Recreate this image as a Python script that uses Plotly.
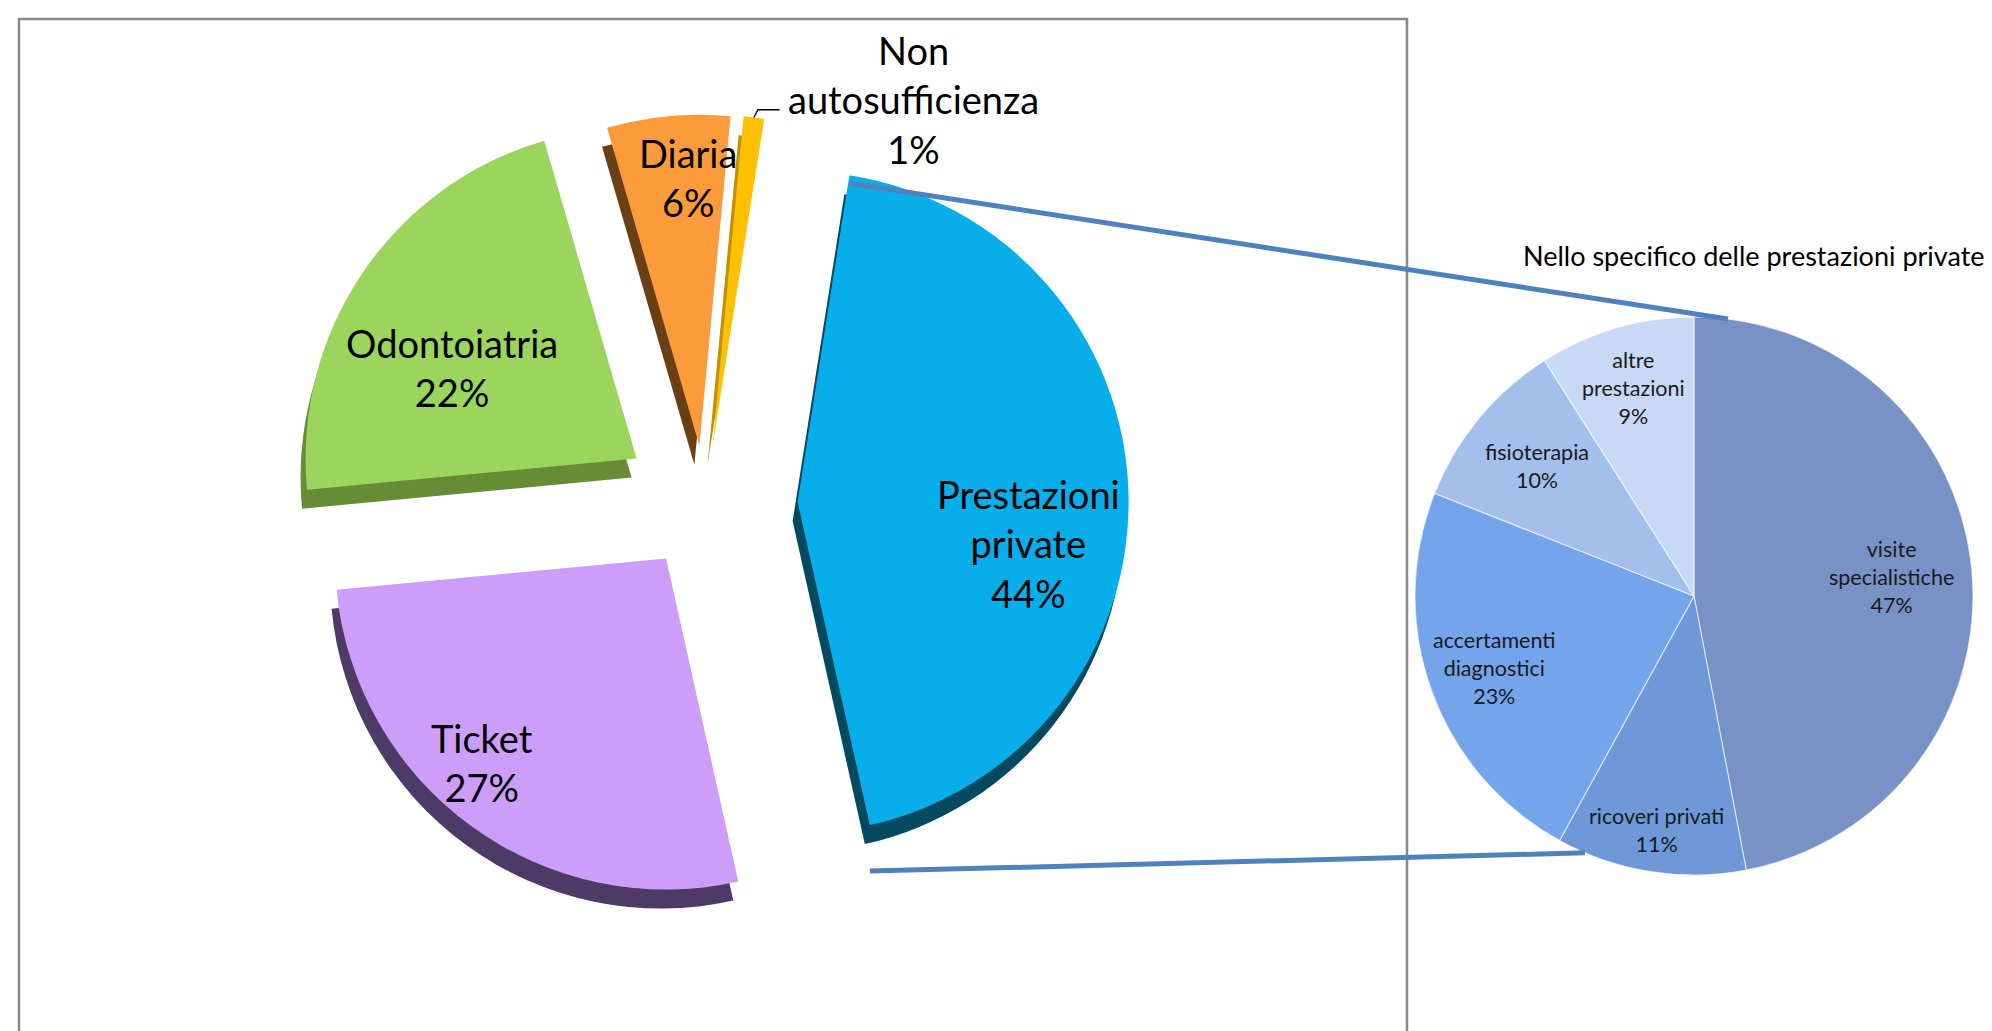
import math
import plotly.graph_objects as go

# ---------------- data ----------------
main_labels = ["Prestazioni<br>private", "Ticket", "Odontoiatria", "Diaria", "Non<br>autosufficienza"]
main_values = [44, 27, 22, 6, 1]

sub_labels = ["visite<br>specialistiche", "ricoveri privati", "accertamenti<br>diagnostici",
              "fisioterapia", "altre<br>prestazioni"]
sub_values = [47, 11, 23, 10, 9]

sub_title = "Nello specifico delle prestazioni private"

# ---------------- style ----------------
W, H = 1992, 1031
FONT = "Lato, Carlito, Calibri, 'Open Sans', sans-serif"

main_colors = ["#08AEEA", "#CC9EFA", "#9BD55E", "#FB9B3B", "#FFC000"]
main_side_colors = ["#03495F", "#4E3A66", "#678C36", "#6B3F14", "#C29100"]
main_pull = [0.28, 0.20, 0.25, 0.18, 0.18]
main_rotation = 9
main_cx, main_cy, main_r = 697, 497, 331
depth_dx, depth_dy = -5, 19
main_lab_r = [0.71, 0.83, 0.62, 0.81, 1.21]
main_lab_dang = [12, 6, -8, 3, 23]
main_font_size = 38

sub_colors = ["#7892C6", "#6F98D8", "#74A5EB", "#A3BFEC", "#C8D9F5"]
sub_rotation = 0
sub_cx, sub_cy, sub_r = 1686, 588, 279
sub_lab_r = [0.71, 0.85, 0.76, 0.73, 0.775]
sub_font_size = 21.5
title_font_size = 27

connector_color = "#4F81BD"


def unit(deg):
    a = math.radians(deg)
    return math.sin(a), -math.cos(a)


def slice_angles(values, rotation):
    tot = float(sum(values))
    cur = rotation
    out = []
    for v in values:
        span = 360.0 * v / tot
        out.append((cur, cur + span, cur + span / 2.0))
        cur += span
    return out


def pie_domain(cx, cy, r, maxpull):
    half = r * (1 + maxpull)
    return dict(x=[(cx - half) / W, (cx + half) / W],
                y=[1 - (cy + half) / H, 1 - (cy - half) / H])


def px(x, y):
    return x / W, 1 - y / H


fig = go.Figure()

plain_main = [l.replace("<br>", " ") for l in main_labels]
plain_sub = [l.replace("<br>", " ") for l in sub_labels]

# 3D side of the exploded pie (darker copy, shifted)
fig.add_trace(go.Pie(
    labels=plain_main, values=main_values, sort=False, direction="clockwise",
    rotation=main_rotation, pull=main_pull,
    marker=dict(colors=main_side_colors, line=dict(width=0)),
    textinfo="none", hoverinfo="skip", showlegend=False,
    domain=pie_domain(main_cx + depth_dx, main_cy + depth_dy, main_r, max(main_pull)),
))

# main exploded pie
fig.add_trace(go.Pie(
    labels=plain_main, values=main_values, sort=False, direction="clockwise",
    rotation=main_rotation, pull=main_pull,
    marker=dict(colors=main_colors, line=dict(width=0)),
    textinfo="none", showlegend=False,
    domain=pie_domain(main_cx, main_cy, main_r, max(main_pull)),
))

# secondary pie
fig.add_trace(go.Pie(
    labels=plain_sub, values=sub_values, sort=False, direction="clockwise",
    rotation=sub_rotation,
    marker=dict(colors=sub_colors, line=dict(color="rgba(255,255,255,0.6)", width=1.2)),
    textinfo="none", showlegend=False,
    domain=pie_domain(sub_cx, sub_cy, sub_r, 0),
))

annotations = []
shapes = []

# main labels
m_ang = slice_angles(main_values, main_rotation)
apexes = []
for i, (lab, v) in enumerate(zip(main_labels, main_values)):
    a0, a1, mid = m_ang[i]
    ux, uy = unit(mid)
    ax = main_cx + main_pull[i] * main_r * ux
    ay = main_cy + main_pull[i] * main_r * uy
    apexes.append((ax, ay))
    lx, ly = unit(mid + main_lab_dang[i])
    tx = ax + main_lab_r[i] * main_r * lx
    ty = ay + main_lab_r[i] * main_r * ly
    xx, yy = px(tx, ty)
    annotations.append(dict(x=xx, y=yy, xref="paper", yref="paper", text=f"{lab}<br>{v}%",
                            showarrow=False, xanchor="center", yanchor="middle", align="center",
                            font=dict(family=FONT, size=main_font_size, color="#000000")))
    if i == len(main_values) - 1:
        # leader line for the small outside label
        tipx = ax + main_r * ux
        tipy = ay + main_r * uy
        left = tx - 3.27 * main_font_size
        p1 = px(tipx, tipy)
        p2 = px(tipx + 4, ty + 10)
        p3 = px(left - 10, ty + 10)
        shapes.append(dict(type="path", xref="paper", yref="paper",
                           path=f"M {p1[0]} {p1[1]} L {p2[0]} {p2[1]} L {p3[0]} {p3[1]}",
                           line=dict(color="#000000", width=1.3)))

# secondary labels
s_ang = slice_angles(sub_values, sub_rotation)
for i, (lab, v) in enumerate(zip(sub_labels, sub_values)):
    a0, a1, mid = s_ang[i]
    ux, uy = unit(mid)
    tx = sub_cx + sub_lab_r[i] * sub_r * ux
    ty = sub_cy + sub_lab_r[i] * sub_r * uy
    xx, yy = px(tx, ty)
    annotations.append(dict(x=xx, y=yy, xref="paper", yref="paper", text=f"{lab}<br>{v}%",
                            showarrow=False, xanchor="center", yanchor="middle", align="center",
                            font=dict(family=FONT, size=sub_font_size, color="#1A1A1A")))

# title of the secondary pie
tx, ty = px(sub_cx + 60, sub_cy - sub_r - 62)
annotations.append(dict(x=tx, y=ty, xref="paper", yref="paper", text=sub_title,
                        showarrow=False, xanchor="center", yanchor="middle",
                        font=dict(family=FONT, size=title_font_size, color="#000000")))

# connector lines from the "Prestazioni private" slice to the secondary pie
a0, a1, mid = m_ang[0]
ax, ay = apexes[0]
u0 = unit(a0)
u1 = unit(a1)
start1 = (ax + main_r * u0[0], ay + main_r * u0[1] + 8)
start2 = (ax + main_r * u1[0], ay + main_r * u1[1] + 46)
e1 = unit(7)
e2 = unit(203)
end1 = (sub_cx + sub_r * e1[0], sub_cy + sub_r * e1[1])
end2 = (sub_cx + sub_r * e2[0], sub_cy + sub_r * e2[1])
for s, e in [(start1, end1), (start2, end2)]:
    ps, pe = px(*s), px(*e)
    shapes.append(dict(type="line", xref="paper", yref="paper",
                       x0=ps[0], y0=ps[1], x1=pe[0], y1=pe[1],
                       line=dict(color=connector_color, width=5)))

# chart-area border
shapes.append(dict(type="rect", xref="paper", yref="paper",
                   x0=11 / W, x1=1399 / W, y0=-0.2, y1=1 - 11 / H,
                   line=dict(color="#888888", width=2.5), layer="below"))

fig.update_layout(
    width=W, height=H,
    margin=dict(l=0, r=0, t=0, b=0),
    paper_bgcolor="#FFFFFF", plot_bgcolor="#FFFFFF",
    annotations=annotations, shapes=shapes,
    showlegend=False,
    font=dict(family=FONT),
)

fig.write_html("out.html")
